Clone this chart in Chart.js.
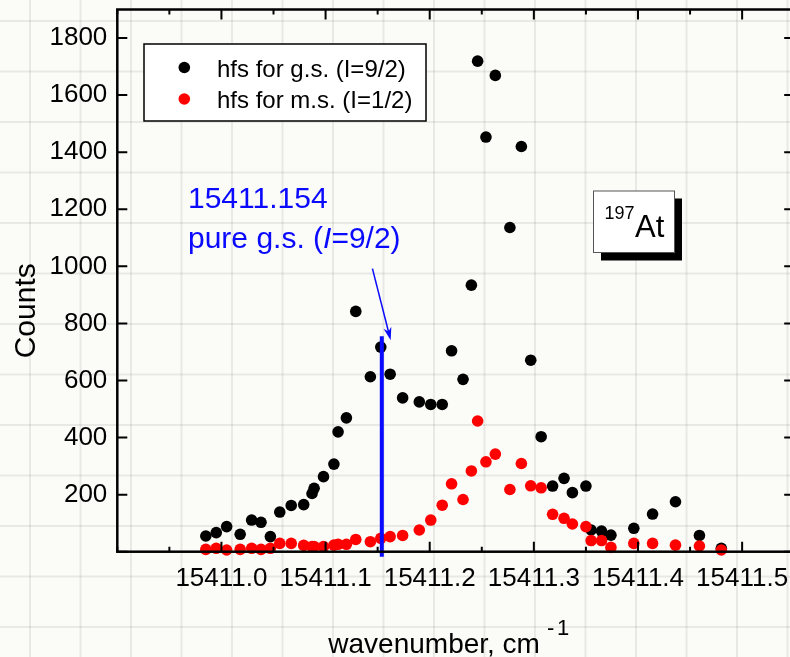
<!DOCTYPE html>
<html>
<head>
<meta charset="utf-8">
<script src="https://cdn.jsdelivr.net/npm/chart.js@4.4.0/dist/chart.umd.min.js"></script>
<style>
html, body { margin: 0; padding: 0; overflow: hidden; }
body {
    width: 790px; height: 657px;
    background-color: #fbfbf7;
    background-image:
        linear-gradient(to right, rgba(0,0,0,0.075) 2px, transparent 2px),
        linear-gradient(to bottom, rgba(0,0,0,0.075) 2px, transparent 2px);
    background-size: 50.5px 50.5px;
    background-position: 29px 20px;
}
#wrap { width: 800px; height: 657px; }
</style>
</head>
<body>
<div id="wrap"><canvas id="myChart" width="800" height="657"></canvas></div>
<script>
// wavenumber (cm-1) of every scan step, shared by both series
let wavenumber = [
    15410.985, 15410.995, 15411.005, 15411.018, 15411.029, 15411.038, 15411.047, 15411.056,
    15411.067, 15411.079, 15411.087, 15411.089, 15411.098, 15411.108, 15411.112, 15411.120,
    15411.129, 15411.143, 15411.153, 15411.162, 15411.174, 15411.190, 15411.201, 15411.212,
    15411.221, 15411.232, 15411.240, 15411.246, 15411.254, 15411.263, 15411.277, 15411.288,
    15411.297, 15411.307, 15411.318, 15411.329, 15411.337, 15411.350, 15411.355, 15411.365,
    15411.374, 15411.396, 15411.414, 15411.436, 15411.459, 15411.480
];
let gsCounts = [
    55, 67, 88, 61, 111, 103, 53, 139,
    162, 165, 204, 222, 263, 307, 420, 469,
    842, 613, 717, 622, 539, 525, 516, 516,
    704, 604, 934, 1719, 1453, 1669, 1136, 1420,
    671, 403, 230, 257, 207, 230, 76, 72,
    58, 82, 132, 175, 57, 12
];
let msCounts = [
    8, 12, 6, 8, 12, 8, 12, 29,
    29, 22, 18, 18, 18, 23, 26, 26,
    43, 35, 47, 53, 57, 76, 111, 163,
    238, 183, 283, 458, 315, 342, 218, 309,
    231, 224, 131, 117, 97, 88, 39, 39,
    15, 29, 29, 23, 20, 6
];
let seriesLabels = ["hfs for g.s. (I=9/2)", "hfs for m.s. (I=1/2)"];
let xTickLabels = [15411.0, 15411.1, 15411.2, 15411.3, 15411.4, 15411.5];
let yTickLabels = [200, 400, 600, 800, 1000, 1200, 1400, 1600, 1800];

// marked line for the pure ground state
let pureGsWavenumber = 15411.154;
let pureGsLine = [-18, 755];
let arrowFrom = [15411.145, 992];
let arrowTo = [15411.1625, 741];

const BLUE = "#0a0aff";
const FONT = "'Liberation Sans', Arial, sans-serif";
Chart.defaults.font.family = FONT;
Chart.defaults.color = "#000";

const X_MIN = 15410.9, X_MAX = 15411.55;

function isLabel(list, v) {
    return list.some(t => Math.abs(t - v) < 1e-6);
}

// tick marks: every 0.05 on x, every 100 on y
let xTickValues = [];
for (let i = 0; i <= 13; i++) xTickValues.push(Math.round((X_MIN + i * 0.05) * 100) / 100);
let yTickValues = [];
for (let v = 0; v <= 1900; v += 100) yTickValues.push(v);

const decor = {
    id: "decor",
    afterDraw(chart) {
        const ctx = chart.ctx;
        const a = chart.chartArea;
        const x = chart.scales.x, y = chart.scales.y;
        ctx.save();

        // frame + inward ticks
        ctx.strokeStyle = "#000";
        ctx.lineWidth = 2.5;
        ctx.strokeRect(a.left, a.top, a.right - a.left, a.bottom - a.top);
        ctx.lineWidth = 2;
        ctx.beginPath();
        x.ticks.forEach(t => {
            const px = x.getPixelForValue(t.value);
            const len = isLabel(xTickLabels, t.value) ? 10 : 5;
            ctx.moveTo(px, a.bottom); ctx.lineTo(px, a.bottom - len);
            ctx.moveTo(px, a.top); ctx.lineTo(px, a.top + len);
        });
        y.ticks.forEach(t => {
            const py = y.getPixelForValue(t.value);
            const len = t.value % 200 === 0 ? 10 : 5;
            ctx.moveTo(a.left, py); ctx.lineTo(a.left + len, py);
            ctx.moveTo(a.right, py); ctx.lineTo(a.right - len, py);
        });
        ctx.stroke();

        // legend box
        ctx.fillStyle = "#fff";
        ctx.fillRect(144, 44, 282, 77);
        ctx.lineWidth = 1.5;
        ctx.strokeRect(144, 44, 282, 77);
        chart.data.datasets.slice(0, 2).forEach((ds, i) => {
            const cy = 67.5 + i * 31.5;
            ctx.fillStyle = ds.backgroundColor;
            ctx.beginPath();
            ctx.arc(184.3, cy, 5.8, 0, Math.PI * 2);
            ctx.fill();
            ctx.fillStyle = "#000";
            ctx.font = "24px " + FONT;
            ctx.textBaseline = "alphabetic";
            ctx.fillText(ds.label, 217, cy + 9.3);
        });

        // 197At label with shadow
        ctx.fillStyle = "#000";
        ctx.fillRect(601, 198.5, 81, 62);
        ctx.fillStyle = "#fff";
        ctx.fillRect(593.5, 191, 81, 61.5);
        ctx.strokeStyle = "#555";
        ctx.lineWidth = 1;
        ctx.strokeRect(593.5, 191, 81, 61.5);
        ctx.fillStyle = "#000";
        ctx.font = "18px " + FONT;
        ctx.fillText("197", 604.5, 218.5);
        ctx.font = "31px " + FONT;
        ctx.fillText("At", 635, 236.7);

        // blue annotation
        ctx.fillStyle = BLUE;
        ctx.font = "30px " + FONT;
        ctx.fillText("15411.154", 188, 208.3);
        let tx = 188;
        const parts = [["pure g.s. (", ""], ["I", "italic "], ["=9/2)", ""]];
        parts.forEach(p => {
            ctx.font = p[1] + "30px " + FONT;
            ctx.fillText(p[0], tx, 248.3);
            tx += ctx.measureText(p[0]).width;
        });

        // arrow
        const x0 = x.getPixelForValue(arrowFrom[0]), y0 = y.getPixelForValue(arrowFrom[1]);
        const x1 = x.getPixelForValue(arrowTo[0]), y1 = y.getPixelForValue(arrowTo[1]);
        const ang = Math.atan2(y1 - y0, x1 - x0);
        ctx.strokeStyle = BLUE;
        ctx.lineWidth = 1.5;
        ctx.beginPath();
        ctx.moveTo(x0, y0);
        ctx.lineTo(x1 - 8 * Math.cos(ang), y1 - 8 * Math.sin(ang));
        ctx.stroke();
        ctx.fillStyle = BLUE;
        ctx.beginPath();
        ctx.moveTo(x1, y1);
        ctx.lineTo(x1 - 13 * Math.cos(ang) + 4 * Math.sin(ang), y1 - 13 * Math.sin(ang) - 4 * Math.cos(ang));
        ctx.lineTo(x1 - 9 * Math.cos(ang), y1 - 9 * Math.sin(ang));
        ctx.lineTo(x1 - 13 * Math.cos(ang) - 4 * Math.sin(ang), y1 - 13 * Math.sin(ang) + 4 * Math.cos(ang));
        ctx.closePath();
        ctx.fill();

        // axis titles
        ctx.fillStyle = "#000";
        ctx.font = "28px " + FONT;
        ctx.fillText("wavenumber, cm", 328.3, 652.7);
        ctx.font = "22px " + FONT;
        ctx.fillText("-", 547, 635);
        ctx.fillText("1", 557, 635);
        ctx.save();
        ctx.translate(35, 310.8);
        ctx.rotate(-Math.PI / 2);
        ctx.font = "30px " + FONT;
        ctx.textAlign = "center";
        ctx.fillText("Counts", 0, 0);
        ctx.restore();

        ctx.restore();
    }
};

new Chart(document.getElementById("myChart"), {
    type: "scatter",
    data: {
        datasets: [
            {
                label: seriesLabels[0],
                data: wavenumber.map((w, i) => ({ x: w, y: gsCounts[i] })),
                backgroundColor: "#000000",
                pointRadius: 5.8,
                pointBorderWidth: 0,
                clip: 10,
                order: 3
            },
            {
                label: seriesLabels[1],
                data: wavenumber.map((w, i) => ({ x: w, y: msCounts[i] })),
                backgroundColor: "#ff0000",
                pointRadius: 5.8,
                pointBorderWidth: 0,
                clip: 10,
                order: 2
            },
            {
                type: "line",
                label: "pure g.s.",
                data: pureGsLine.map(v => ({ x: pureGsWavenumber, y: v })),
                borderColor: BLUE,
                borderWidth: 4,
                pointRadius: 0,
                clip: 20,
                order: 1
            }
        ]
    },
    options: {
        responsive: false,
        animation: false,
        layout: { padding: { top: 9.5, right: 5, left: 0, bottom: 0 } },
        plugins: {
            legend: { display: false },
            tooltip: { enabled: false }
        },
        scales: {
            x: {
                type: "linear",
                min: X_MIN,
                max: X_MAX,
                afterBuildTicks: s => { s.ticks = xTickValues.map(v => ({ value: v })); },
                afterFit: s => { s.height = 105.3; s.paddingLeft = 0; s.paddingRight = 0; },
                grid: { display: false, drawTicks: false },
                border: { display: false },
                ticks: {
                    autoSkip: false,
                    maxRotation: 0,
                    padding: 12,
                    font: { size: 26 },
                    callback: v => isLabel(xTickLabels, v) ? v.toFixed(1) : ""
                }
            },
            y: {
                min: 0,
                max: 1900,
                afterBuildTicks: s => { s.ticks = yTickValues.map(v => ({ value: v })); },
                afterFit: s => { s.width = 117.3; s.paddingTop = 0; s.paddingBottom = 0; },
                grid: { display: false, drawTicks: false },
                border: { display: false },
                ticks: {
                    padding: 10,
                    font: { size: 26 },
                    callback: v => yTickLabels.includes(v) ? v : ""
                }
            }
        }
    },
    plugins: [decor]
});
</script>
</body>
</html>
